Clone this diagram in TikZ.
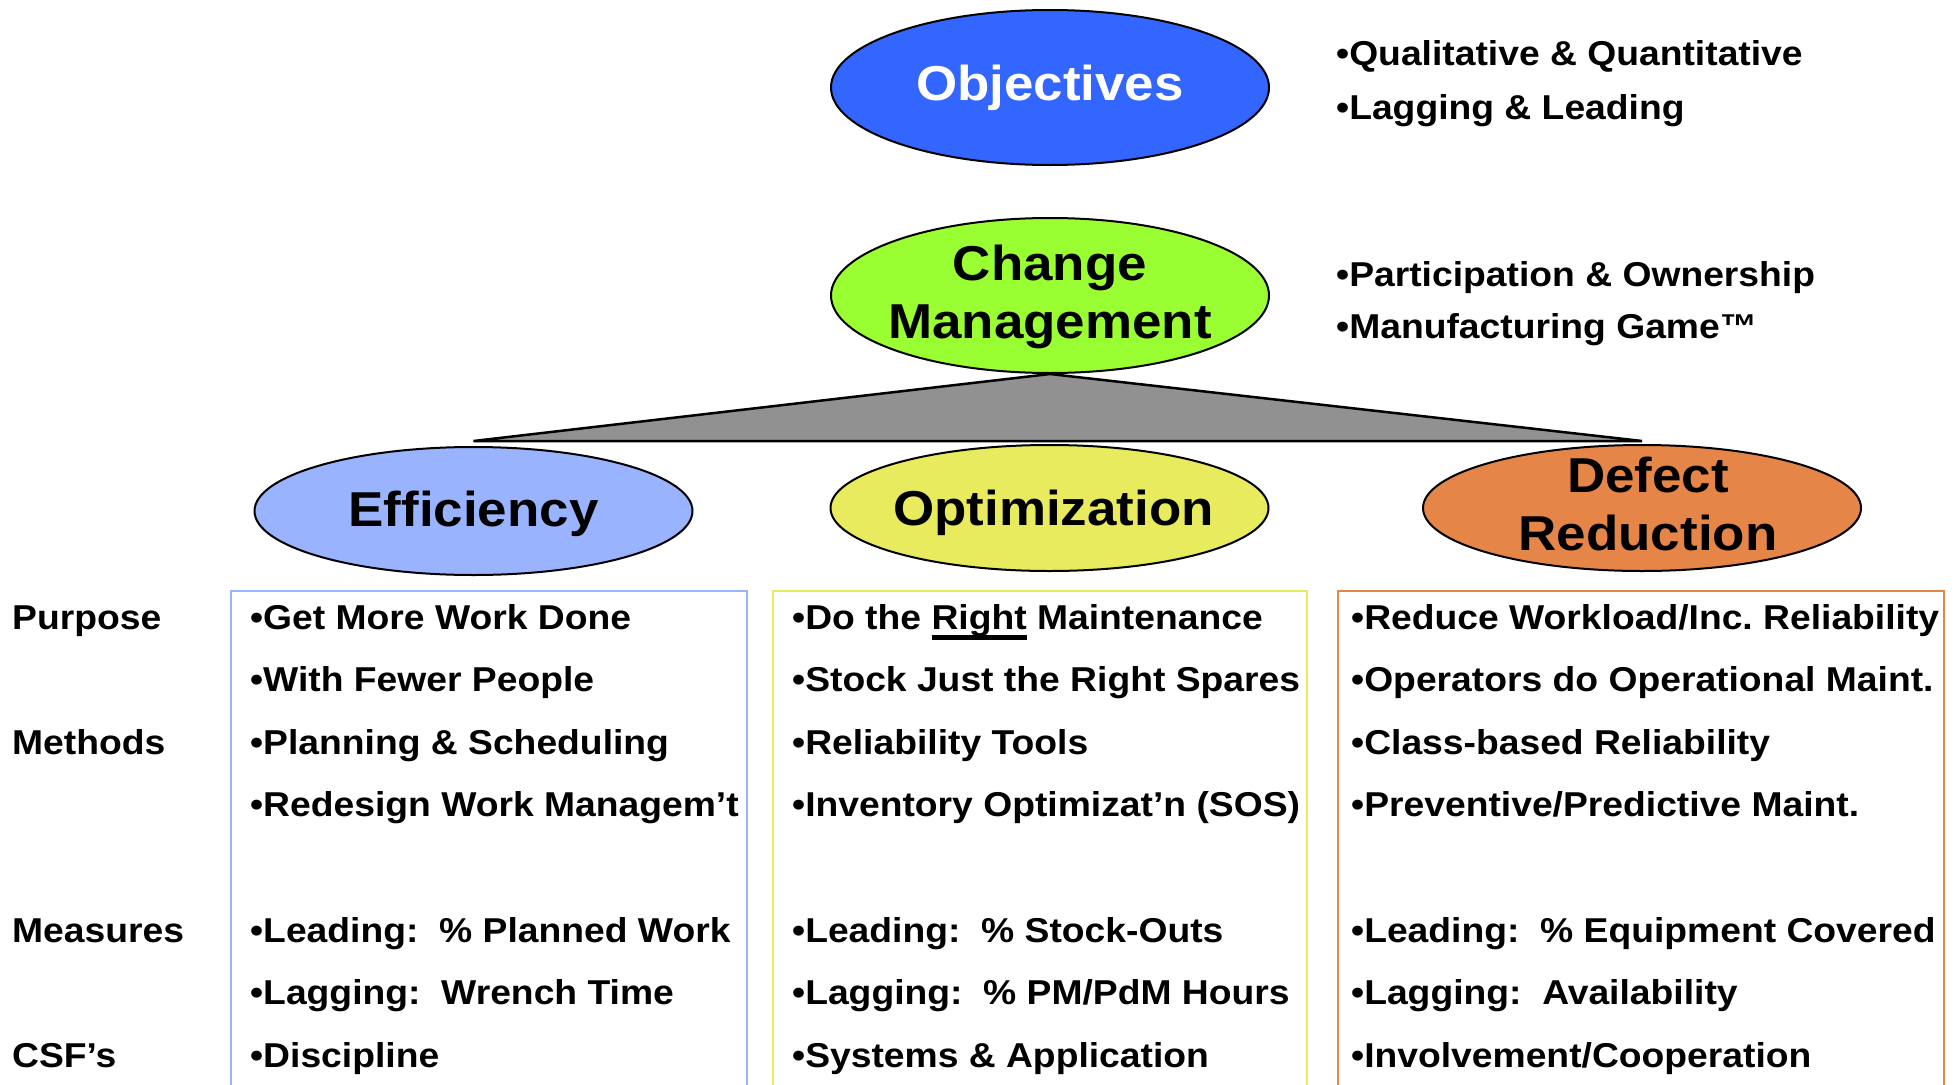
\documentclass[tikz,border=0pt]{standalone}
\usepackage{fontspec}
\setmainfont{Liberation Sans}[FakeStretch=1.08]
\usetikzlibrary{shapes.geometric}

\definecolor{objblue}{RGB}{51,102,255}
\definecolor{cmgreen}{RGB}{153,255,51}
\definecolor{effblue}{RGB}{153,179,255}
\definecolor{optyellow}{RGB}{232,235,94}
\definecolor{deforange}{RGB}{230,133,72}
\definecolor{wedgegray}{RGB}{145,145,145}

% word with a heavy underline drawn through the descenders
\newcommand\ulword[1]{\setbox0=\hbox{#1}\rlap{\rule[-10.5pt]{\wd0}{4.5pt}}\box0\relax}

\frenchspacing

\begin{document}
\begin{tikzpicture}[x=1pt,y=-1pt,
  oval/.style={ellipse, draw=black, line width=2pt, inner sep=0pt,
    minimum width=438pt},
  ovaltext/.style={anchor=base, inner sep=0pt,
    font=\bfseries\fontsize{49}{58}\selectfont},
  item/.style={anchor=base west, inner sep=0pt,
    font=\bfseries\fontsize{34.5}{40}\selectfont},
  colframe/.style={line width=2pt}]

\useasboundingbox (0,0) rectangle (1956,1084);
\fill[white] (0,0) rectangle (1956,1084);

% ---- top ovals ----
\node[oval, fill=objblue, minimum height=155pt] (obj) at (1050,87.5) {};
\node[ovaltext, text=white] (objT) at ([yshift=-13pt]obj.center) {Objectives};

\node[oval, fill=cmgreen, minimum height=155pt] (cm) at (1050,295.5) {};
\node[ovaltext] (cmT1) at ([yshift=15.5pt]cm.center) {Change};
\node[ovaltext] (cmT2) at ([yshift=-42.5pt]cm.center) {Management};

% ---- three pillars ----
\node[oval, fill=effblue, minimum height=128pt] (eff) at (473.5,511) {};
\node[oval, fill=optyellow, minimum height=126pt] (opt) at (1049.5,508) {};
\node[oval, fill=deforange, minimum height=126pt] (def) at (1642,508) {};

% wedge from Change Management down to the pillars
\filldraw[fill=wedgegray, draw=black, line width=2.5pt, line join=miter]
  (cm.south) -- ([yshift=5pt]eff.north) -- ([yshift=3pt]def.north) -- cycle;

\node[ovaltext] (effT) at ([yshift=-15pt]eff.center) {Efficiency};
\node[ovaltext] (optT) at ([xshift=4pt,yshift=-17pt]opt.center) {Optimization};
\node[ovaltext] (defT1) at ([xshift=6pt,yshift=16pt]def.center) {Defect};
\node[ovaltext] (defT2) at ([xshift=6pt,yshift=-42pt]def.center) {Reduction};

% ---- notes beside the top ovals ----
\node[item] (n1) at (1336,65.7) {•Qualitative \& Quantitative};
\node[item] (n2) at (1336,119.3) {•Lagging \& Leading};
\node[item] (n3) at (1336,286) {•Participation \& Ownership};
\node[item] (n4) at (1336,338) {•Manufacturing Game™};

% ---- column frames (open at the bottom) ----
\draw[colframe, draw=effblue] (231,1090) -- (231,591) -- (747,591) -- (747,1090);
\draw[colframe, draw=optyellow] (773,1090) -- (773,591) -- (1307,591) -- (1307,1090);
\draw[colframe, draw=deforange] (1338,1090) -- (1338,591) -- (1944,591) -- (1944,1090);

% ---- row labels ----
\node[item] (lPur) at (12,629) {Purpose};
\node[item] (lMet) at (12,754.2) {Methods};
\node[item] (lMea) at (12,942) {Measures};
\node[item] (lCsf) at (12,1067.2) {CSF’s};

% ---- Efficiency column ----
\node[item] (e1) at (250,629) {•Get More Work Done};
\node[item] (e2) at (250,691.6) {•With Fewer People};
\node[item] (e3) at (250,754.2) {•Planning \& Scheduling};
\node[item] (e4) at (250,816.8) {•Redesign Work Managem’t};
\node[item] (e5) at (250,942) {•Leading:\ \ \% Planned Work};
\node[item] (e6) at (250,1004.6) {•Lagging:\ \ Wrench Time};
\node[item] (e7) at (250,1067.2) {•Discipline};

% ---- Optimization column ----
\node[item] (o1) at (792,629) {•Do the \ulword{Right} Maintenance};
\node[item] (o2) at (792,691.6) {•Stock Just the Right Spares};
\node[item] (o3) at (792,754.2) {•Reliability Tools};
\node[item] (o4) at (792,816.8) {•Inventory Optimizat’n (SOS)};
\node[item] (o5) at (792,942) {•Leading:\ \ \% Stock-Outs};
\node[item] (o6) at (792,1004.6) {•Lagging:\ \ \% PM/PdM Hours};
\node[item] (o7) at (792,1067.2) {•Systems \& Application};

% ---- Defect Reduction column ----
\node[item] (d1) at (1351,629) {•Reduce Workload/Inc. Reliability};
\node[item] (d2) at (1351,691.6) {•Operators do Operational Maint.};
\node[item] (d3) at (1351,754.2) {•Class-based Reliability};
\node[item] (d4) at (1351,816.8) {•Preventive/Predictive Maint.};
\node[item] (d5) at (1351,942) {•Leading:\ \ \% Equipment Covered};
\node[item] (d6) at (1351,1004.6) {•Lagging:\ \ Availability};
\node[item] (d7) at (1351,1067.2) {•Involvement/Cooperation};

\end{tikzpicture}
\end{document}
